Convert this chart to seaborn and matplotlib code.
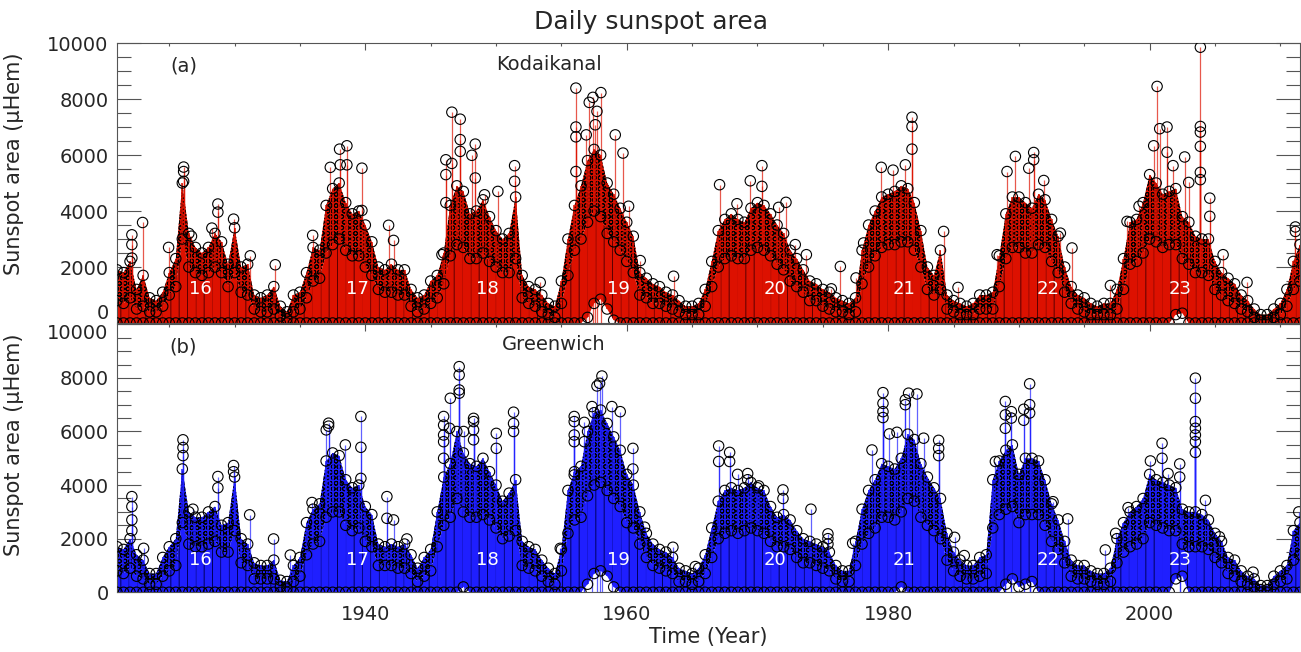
import numpy as np
import pandas as pd
import matplotlib
matplotlib.use("Agg")
import matplotlib.pyplot as plt
import seaborn as sns

sns.set_theme(style="white")
plt.rcParams['font.family'] = ['DejaVu Sans']
plt.rcParams['hatch.linewidth'] = 0.7

# ---------------- data ----------------
# half-year sampling grid 1921.0 ... 2011.5
years = np.arange(1921.0, 2012.0, 0.5)

# Kodaikanal: upper edge of dense cloud (env), top of solid red (core), lower envelope (low)
env_a = [1900, 1800, 2200, 1200, 1700, 900, 800, 1100, 1800, 2300,
         5000, 3200, 2700, 2500, 2700, 3200, 2900, 2100, 3400, 2000,
         2100, 1000, 900, 1000, 1300, 600, 400, 1000, 1100, 1800,
         2700, 2600, 4200, 4800, 5000, 4300, 3900, 4000, 3500, 2900,
         2000, 1900, 2100, 1900, 1900, 1200, 900, 1000, 1500, 1700,
         2500, 4200, 4900, 4700, 3900, 4000, 4400, 3800, 3300, 3000,
         3200, 4500, 1700, 1300, 1200, 1000, 700, 600, 1500, 3000,
         4200, 4900, 5800, 6200, 6000, 5000, 4600, 4100, 3600, 3100,
         1800, 1600, 1400, 1300, 1100, 1000, 800, 600, 600, 700,
         1200, 2200, 3300, 3700, 3900, 3700, 3600, 4100, 4300, 4200,
         3900, 3500, 3200, 2600, 2300, 1900, 1500, 1400, 1200, 1100,
         900, 800, 700, 900, 2600, 3500, 4000, 4500, 4600, 4700,
         4900, 4800, 4300, 3300, 2000, 1700, 2600, 1000, 800, 700,
         600, 700, 1000, 1000, 1100, 2400, 3900, 4500, 4500, 4300,
         4100, 4600, 4400, 3700, 3100, 2000, 1300, 1000, 900, 700,
         600, 700, 700, 1200, 2300, 3600, 3700, 4300, 5300, 5000,
         4600, 4700, 4800, 3800, 3600, 3100, 3000, 3000, 2200, 1800,
         1600, 1400, 1000, 800, 500, 300, 300, 500, 700, 1200,
         2200, 2800]
core_a = [800, 700, 900, 500, 600, 400, 400, 600, 1000, 1300,
          3000, 2000, 1800, 1700, 1800, 2000, 1800, 1300, 1800, 1100,
          1000, 500, 400, 400, 500, 250, 150, 400, 500, 900,
          1500, 1600, 2500, 2800, 3000, 2600, 2400, 2400, 2000, 1700,
          1200, 1100, 1100, 1000, 1000, 600, 400, 500, 700, 900,
          1400, 2400, 2800, 2700, 2300, 2300, 2500, 2200, 2000, 1800,
          1800, 2300, 900, 700, 600, 400, 300, 200, 700, 1700,
          2600, 3000, 3600, 4000, 3800, 3200, 2900, 2600, 2200, 1800,
          1000, 900, 700, 700, 600, 500, 400, 300, 300, 300,
          600, 1300, 2000, 2300, 2400, 2300, 2300, 2600, 2700, 2600,
          2400, 2100, 1900, 1500, 1300, 1100, 800, 800, 600, 500,
          400, 400, 300, 400, 1400, 2000, 2400, 2700, 2800, 2800,
          2900, 2900, 2600, 2000, 1200, 1000, 1200, 500, 400, 300,
          300, 300, 500, 500, 500, 1300, 2300, 2700, 2700, 2500,
          2500, 2800, 2700, 2200, 1800, 1100, 700, 500, 400, 300,
          300, 300, 300, 500, 1200, 2100, 2200, 2500, 3000, 2900,
          2700, 2800, 2800, 2300, 2100, 1800, 1800, 1700, 1200, 1000,
          800, 700, 500, 400, 200, 100, 100, 200, 300, 600,
          1200, 1500]
low_a = [0, 0, 0, 0, 0, 0, 0, 0, 0, 0,
         0, 0, 0, 0, 0, 0, 0, 0, 0, 0,
         0, 0, 0, 0, 0, 0, 0, 0, 0, 0,
         0, 0, 0, 0, 0, 0, 0, 0, 0, 0,
         0, 0, 0, 0, 0, 0, 0, 0, 0, 0,
         0, 0, 0, 0, 0, 0, 0, 0, 0, 0,
         0, 0, 0, 0, 0, 0, 0, 0, 0, 0,
         0, 0, 200, 700, 850, 500, 100, 0, 0, 0,
         0, 0, 0, 0, 0, 0, 0, 0, 0, 0,
         0, 0, 0, 0, 0, 0, 0, 0, 0, 0,
         0, 0, 0, 0, 0, 0, 0, 0, 0, 0,
         0, 0, 0, 0, 0, 0, 0, 0, 0, 0,
         0, 0, 0, 0, 0, 0, 0, 0, 0, 0,
         0, 0, 0, 0, 0, 0, 0, 0, 0, 0,
         0, 0, 0, 0, 0, 0, 0, 0, 0, 0,
         0, 0, 0, 0, 0, 0, 0, 0, 0, 0,
         0, 0, 300, 350, 0, 0, 0, 0, 0, 0,
         0, 0, 0, 0, 0, 0, 0, 0, 0, 0,
         0, 0]
# isolated high daily values (Kodaikanal)
spike_t_a = [1922.14, 1922.14, 1922.14, 1922.96, 1924.95, 1926.10, 1926.10, 1926.10,
             1926.70, 1928.26, 1928.72, 1928.72, 1929.92, 1931.20, 1933.11, 1935.97,
             1937.32, 1938.03, 1938.08, 1938.59, 1938.59, 1939.74, 1939.74, 1941.78,
             1942.16, 1945.86, 1946.16, 1946.16, 1946.16, 1946.62, 1946.62, 1947.26,
             1947.26, 1947.26, 1948.15, 1948.41, 1948.41, 1949.12, 1950.14, 1951.42,
             1951.42, 1953.38, 1956.11, 1956.11, 1956.11, 1956.11, 1956.90, 1957.13,
             1957.41, 1957.59, 1957.72, 1958.02, 1959.12, 1959.71, 1960.14, 1961.03,
             1963.58, 1967.10, 1968.43, 1969.45, 1970.34, 1970.34, 1971.62, 1972.18,
             1972.89, 1973.74, 1975.65, 1976.34, 1977.54, 1978.12, 1979.47, 1980.37,
             1981.31, 1981.82, 1981.82, 1981.82, 1984.24, 1985.34, 1988.33, 1989.09,
             1989.73, 1990.75, 1991.13, 1991.13, 1991.90, 1993.17, 1994.06, 1997.00,
             1998.27, 1999.19, 2000.31, 2000.57, 2000.77, 2001.33, 2001.33, 2001.79,
             2002.68, 2002.99, 2003.88, 2003.88, 2003.88, 2003.88, 2003.88, 2003.88,
             2004.60, 2004.60, 2005.62, 2007.45, 2011.15, 2011.15]
spike_v_a = [3150, 2800, 2320, 3590, 2700, 5570, 5410, 5060,
             3100, 3390, 4250, 3960, 3710, 2400, 2080, 3130,
             5560, 6210, 5650, 6330, 5650, 5530, 4020, 3490,
             2950, 2440, 5830, 5300, 4300, 7530, 5700, 7280,
             6550, 6130, 5990, 6390, 5180, 4580, 4700, 5620,
             5060, 1450, 8390, 7000, 6650, 5410, 6720, 7880,
             8060, 7080, 7560, 8230, 6720, 6070, 4170, 2230,
             1670, 4940, 4260, 5080, 5620, 4880, 4130, 4310,
             2800, 2440, 1220, 2020, 1610, 2860, 5560, 5460,
             5650, 7350, 7020, 6210, 3270, 1270, 2440, 5410,
             5950, 5530, 6090, 5830, 5090, 3210, 2680, 1340,
             3630, 4170, 6330, 8450, 6940, 7000, 6100, 5620,
             5930, 5020, 9850, 7020, 6820, 6310, 5380, 5120,
             4460, 3810, 2440, 1450, 3430, 3270]

# Greenwich
env_b = [1700, 1600, 2000, 1400, 1200, 700, 700, 1300, 1700, 2000,
         4600, 3000, 2800, 2800, 3000, 3200, 2500, 2600, 4300, 2000,
         1800, 1100, 1000, 1000, 1200, 450, 400, 1000, 1300, 2600,
         3100, 3300, 4900, 5200, 5100, 4200, 3900, 4000, 3200, 2900,
         1800, 1700, 1800, 1700, 1800, 1400, 900, 1300, 1600, 3000,
         4300, 4800, 6000, 5200, 4800, 4700, 5000, 4500, 4000, 3400,
         3700, 4200, 1900, 1700, 1600, 1200, 900, 700, 1600, 3800,
         4500, 4700, 6000, 6700, 6800, 6300, 5800, 5300, 4400, 4000,
         3000, 2200, 1800, 1600, 1500, 1300, 900, 800, 700, 900,
         1400, 2400, 3400, 3800, 3900, 3800, 3900, 4100, 3900, 3800,
         3200, 2800, 2900, 2700, 2300, 2000, 1900, 1800, 1700, 1500,
         1000, 800, 800, 1900, 3100, 3800, 4200, 4800, 4700, 4600,
         5000, 5900, 5700, 4800, 4300, 3900, 3500, 2200, 1500, 1200,
         1000, 1000, 1300, 1400, 4200, 4900, 5300, 5500, 4400, 5000,
         5000, 4900, 4200, 3300, 2700, 1900, 1200, 1000, 1000, 800,
         700, 700, 900, 2000, 2600, 3000, 3200, 3500, 4400, 4200,
         4100, 4000, 3900, 3100, 3000, 3000, 2900, 2700, 2200, 1900,
         1300, 1200, 800, 600, 500, 250, 250, 600, 800, 1000,
         2300, 2600]
core_b = [800, 700, 900, 600, 500, 300, 300, 600, 800, 1000,
          2600, 1800, 1700, 1700, 1800, 1900, 1500, 1500, 2300, 1100,
          1000, 500, 500, 500, 500, 200, 150, 400, 600, 1400,
          1800, 1900, 2800, 3000, 3000, 2500, 2300, 2400, 1900, 1700,
          1000, 1000, 1000, 900, 900, 700, 400, 600, 800, 1700,
          2500, 2800, 3500, 3000, 2800, 2800, 2900, 2700, 2400, 2000,
          2100, 2300, 1000, 900, 800, 600, 400, 300, 800, 2200,
          2700, 2800, 3600, 4000, 4100, 3800, 3500, 3200, 2600, 2400,
          1800, 1300, 1000, 900, 800, 700, 400, 400, 300, 400,
          700, 1300, 2000, 2200, 2300, 2200, 2300, 2400, 2300, 2200,
          1900, 1700, 1700, 1600, 1300, 1100, 1100, 1000, 900, 800,
          500, 400, 400, 1000, 1800, 2200, 2400, 2800, 2800, 2700,
          3000, 3500, 3400, 2800, 2500, 2300, 2000, 1200, 800, 600,
          500, 500, 600, 700, 2400, 2900, 3100, 3200, 2600, 2900,
          2900, 2900, 2500, 1900, 1600, 1100, 600, 500, 500, 400,
          300, 300, 400, 1100, 1500, 1700, 1800, 2000, 2600, 2500,
          2400, 2300, 2300, 1800, 1700, 1700, 1700, 1600, 1300, 1100,
          700, 600, 400, 300, 200, 100, 100, 300, 400, 500,
          1200, 1400]
low_b = [0, 0, 0, 0, 0, 0, 0, 0, 0, 0,
         0, 0, 0, 0, 0, 0, 0, 0, 0, 0,
         0, 0, 0, 0, 0, 0, 0, 0, 0, 0,
         0, 0, 0, 0, 0, 0, 0, 0, 0, 0,
         0, 0, 0, 0, 0, 0, 0, 0, 0, 0,
         0, 0, 0, 200, 0, 0, 0, 0, 0, 0,
         0, 0, 0, 0, 0, 0, 0, 0, 0, 0,
         0, 0, 300, 700, 800, 600, 200, 0, 0, 0,
         0, 0, 0, 0, 0, 0, 0, 0, 0, 0,
         0, 0, 0, 0, 0, 0, 0, 0, 0, 0,
         0, 0, 0, 0, 0, 0, 0, 0, 0, 0,
         0, 0, 0, 0, 0, 0, 0, 0, 0, 0,
         200, 0, 0, 0, 0, 0, 0, 0, 0, 0,
         0, 0, 0, 0, 0, 0, 300, 500, 200, 300,
         400, 0, 0, 0, 0, 0, 0, 0, 0, 0,
         0, 0, 0, 0, 0, 0, 0, 0, 0, 0,
         0, 0, 500, 600, 0, 0, 0, 0, 0, 0,
         0, 0, 0, 0, 0, 0, 0, 0, 0, 0,
         0, 0]
spike_t_b = [1922.14, 1922.14, 1922.14, 1922.14, 1923.04, 1926.05, 1926.05, 1926.05,
             1926.81, 1928.72, 1928.72, 1929.92, 1929.92, 1931.15, 1932.98, 1934.26,
             1935.92, 1937.01, 1937.19, 1937.19, 1938.47, 1939.66, 1939.66, 1939.66,
             1941.65, 1941.65, 1942.16, 1943.18, 1945.99, 1945.99, 1945.99, 1945.99,
             1945.99, 1946.44, 1946.50, 1947.18, 1947.18, 1947.18, 1947.18, 1947.52,
             1948.28, 1948.28, 1948.28, 1948.28, 1950.02, 1950.02, 1951.34, 1951.34,
             1951.34, 1954.91, 1955.98, 1955.98, 1955.98, 1955.98, 1955.98, 1956.75,
             1956.75, 1957.34, 1957.72, 1957.92, 1958.10, 1958.86, 1959.50, 1960.47,
             1960.47, 1961.36, 1963.53, 1965.24, 1967.03, 1967.03, 1967.87, 1967.87,
             1968.48, 1969.25, 1969.25, 1970.09, 1971.95, 1971.95, 1974.09, 1975.39,
             1975.39, 1975.39, 1977.28, 1978.76, 1979.60, 1979.60, 1979.60, 1979.60,
             1980.09, 1980.67, 1981.31, 1981.31, 1981.56, 1982.20, 1982.71, 1983.86,
             1983.86, 1983.86, 1985.08, 1985.82, 1988.20, 1988.96, 1988.96, 1988.96,
             1989.42, 1989.42, 1990.37, 1990.37, 1990.82, 1990.82, 1990.82, 1992.61,
             1993.73, 1996.61, 1997.40, 1998.35, 2000.06, 2000.95, 2000.95, 2001.41,
             2002.30, 2002.30, 2003.50, 2003.50, 2003.50, 2003.50, 2003.50, 2003.50,
             2003.50, 2004.27, 2005.34, 2007.91, 2011.41]
spike_v_b = [3570, 3200, 2700, 2300, 1640, 5690, 5400, 5100,
             3100, 4320, 3900, 4730, 4500, 2890, 1990, 1390,
             3350, 6060, 6310, 6200, 5500, 6560, 5410, 4250,
             3570, 2760, 2700, 1990, 6560, 6240, 5870, 5620,
             5000, 6120, 7240, 8420, 8110, 7550, 7430, 6000,
             6490, 6370, 6060, 5690, 5930, 5370, 6720, 6300,
             6000, 1640, 6560, 6370, 5870, 5620, 4380, 6340,
             5620, 6930, 7700, 7800, 8070, 6930, 6740, 5370,
             4600, 2430, 1680, 960, 5460, 4880, 5220, 4880,
             4400, 4430, 4200, 3970, 3820, 3500, 3100, 2180,
             2000, 1800, 1830, 5310, 7450, 7050, 6740, 6520,
             5910, 5970, 7180, 7000, 7430, 7400, 5750, 5670,
             5370, 5100, 2050, 1370, 4880, 7120, 6620, 6120,
             6740, 6500, 6830, 6420, 7780, 7000, 6690, 3380,
             2740, 1580, 2200, 3160, 4900, 5560, 5000, 4430,
             4790, 4300, 7990, 7240, 6370, 6120, 5870, 5620,
             5220, 3430, 2070, 750, 3000]

cycle_labels = ['16', '17', '18', '19', '20', '21', '22', '23']
cycle_years = [1927.37, 1939.36, 1949.35, 1959.38, 1971.31, 1981.2, 1992.27, 2002.3]
cycle_level = 1200

ytick_vals = [0, 2000, 4000, 6000, 8000, 10000]
ytick_text = ['0', '2000', '4000', '6000', '8000', '10000']

# ---------------- figure ----------------
fig = plt.figure(figsize=(13.01, 6.52), dpi=100)
ax_a = fig.add_axes([0.0899, 0.5046, 0.9093, 0.4294])
ax_b = fig.add_axes([0.0899, 0.0916, 0.9093, 0.4110])


def draw(ax, env, core, low, st, sv, color, dark):
    env = np.asarray(env, float)
    core = np.asarray(core, float)
    low = np.asarray(low, float)
    # body of the daily series (red/blue with darker streaks)
    ax.fill_between(years, low, core, facecolor=color, edgecolor=dark,
                    hatch='||', lw=0, zorder=1)
    # dense upper band of daily circles
    ax.fill_between(years, core, env, facecolor=color, edgecolor='black',
                    hatch='OOO', lw=0, zorder=1)
    ax.vlines(years, low, env, color=color, lw=1.1, zorder=2)
    ax.vlines(st, 0, sv, color=color, lw=0.9, alpha=0.7, zorder=2)
    pts = pd.DataFrame({
        't': np.concatenate([years, years, years, st]),
        'v': np.concatenate([env, core, low, sv]),
    })
    sns.scatterplot(data=pts, x='t', y='v', ax=ax, marker='o', s=56,
                    facecolor='none', edgecolor='black', linewidth=0.8,
                    zorder=3, legend=False)
    for lab, yr in zip(cycle_labels, cycle_years):
        ax.text(yr, cycle_level, lab, color='white', fontsize=13,
                ha='center', va='center', zorder=5)


draw(ax_a, env_a, core_a, low_a, spike_t_a, spike_v_a, '#dd1100', '#5a0000')
draw(ax_b, env_b, core_b, low_b, spike_t_b, spike_v_b, '#1f1fff', '#00005a')

for ax in (ax_a, ax_b):
    ax.set_xlim(1921.0, 2011.5)
    ax.set_ylim(0, 10000)
    ax.set_xticks([1940, 1960, 1980, 2000])
    ax.set_xticks(np.arange(1925, 2011, 5), minor=True)
    ax.set_yticks(np.arange(0, 10001, 500), minor=True)
    ax.tick_params(which='both', direction='in', top=True, right=True,
                   bottom=True, left=True, color='#555555', width=0.8)
    ax.tick_params(axis='y', which='major', length=17, labelsize=14, pad=6)
    ax.tick_params(axis='y', which='minor', length=10)
    ax.tick_params(axis='x', which='major', length=5, labelsize=14, pad=9)
    ax.tick_params(axis='x', which='minor', length=2.5)
    for sp in ax.spines.values():
        sp.set_color('#555555')
        sp.set_linewidth(0.8)
    ax.set_ylabel('Sunspot area (μHem)', fontsize=15)
    ax.set_xlabel('')

ax_a.set_yticks(ytick_vals, ytick_text)
ax_b.set_yticks(ytick_vals, ytick_text)
ax_a.get_yticklabels()[0].set_va('bottom')
ax_b.get_yticklabels()[-1].set_va('top')

ax_a.tick_params(labelbottom=False)
ax_a.yaxis.set_label_coords(-0.079, 0.57)
ax_b.yaxis.set_label_coords(-0.079, 0.55)
ax_b.set_xlabel('Time (Year)', fontsize=15, labelpad=2)

ax_a.text(0.0563, 0.917, '(a)', transform=ax_a.transAxes, fontsize=14,
          ha='center', va='center')
ax_a.text(0.365, 0.925, 'Kodaikanal', transform=ax_a.transAxes, fontsize=14,
          ha='center', va='center')
ax_b.text(0.0563, 0.916, '(b)', transform=ax_b.transAxes, fontsize=14,
          ha='center', va='center')
ax_b.text(0.369, 0.923, 'Greenwich', transform=ax_b.transAxes, fontsize=14,
          ha='center', va='center')

fig.suptitle('Daily sunspot area', x=0.5, y=0.966, fontsize=18, va='center')

fig.savefig('out.png', dpi=100)
